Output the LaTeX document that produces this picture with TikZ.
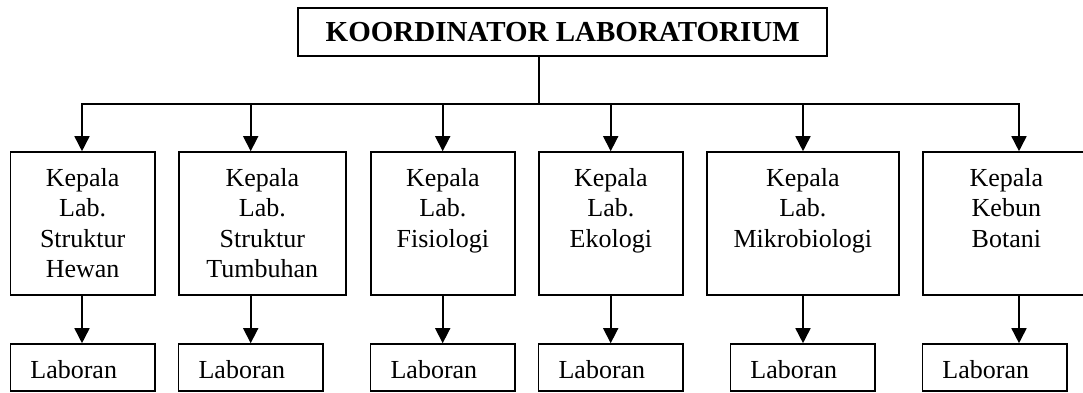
\documentclass[tikz,border=0pt]{standalone}
\usepackage{fontspec}
\setmainfont{Liberation Serif}
\usetikzlibrary{arrows.meta,positioning}
\tikzset{
  orgtitle/.style={
    rectangle, draw=black, line width=1.6pt, inner sep=0pt,
    minimum width=529pt, minimum height=48pt,
    font=\bfseries\fontsize{29}{34}\selectfont
  },
  orgkepala/.style={
    rectangle, draw=black, line width=1.6pt, inner sep=0pt,
    minimum height=143pt
  },
  orgkepalatext/.style={
    align=center, inner sep=0pt,
    font=\fontsize{26}{30.3}\selectfont
  },
  orglaboran/.style={
    rectangle, draw=black, line width=1.6pt,
    minimum height=47pt, inner xsep=20pt, inner ysep=0pt,
    text width=104.5pt, align=left,
    text height=21pt, text depth=0pt,
    font=\fontsize{26}{30.3}\selectfont
  },
  orgline/.style={line width=1.6pt},
  orgedge/.style={-{Triangle[width=15pt,length=15pt]},line width=1.6pt}
}
\begin{document}
\begin{tikzpicture}[x=1pt,y=-1pt]
  \useasboundingbox (0,0) rectangle (1083,392);
  \clip (0,0) rectangle (1083,392);
  % top box
  \node[orgtitle] (koord) at (562.7,32) {KOORDINATOR LABORATORIUM};
  % heads of the labs
  \node[orgkepala,minimum width=144.7pt] (k1) at (82.65,223.5) {};
  \node[orgkepala,minimum width=167.3pt] (k2) at (262.35,223.5) {};
  \node[orgkepala,minimum width=144.3pt] (k3) at (442.85,223.5) {};
  \node[orgkepala,minimum width=144.3pt] (k4) at (610.85,223.5) {};
  \node[orgkepala,minimum width=192.3pt] (k5) at (802.85,223.5) {};
  \node[orgkepala,minimum width=167.3pt] (k6) at (1006.35,223.5) {};
  \node[orgkepalatext,below=17pt of k1.north] {Kepala\\Lab.\\Struktur\\Hewan};
  \node[orgkepalatext,below=17pt of k2.north] {Kepala\\Lab.\\Struktur\\Tumbuhan};
  \node[orgkepalatext,below=17pt of k3.north] {Kepala\\Lab.\\Fisiologi};
  \node[orgkepalatext,below=17pt of k4.north] {Kepala\\Lab.\\Ekologi};
  \node[orgkepalatext,below=17pt of k5.north] {Kepala\\Lab.\\Mikrobiologi};
  \node[orgkepalatext,below=17pt of k6.north] {Kepala\\Kebun\\Botani};
  % laboran row
  \node[orglaboran] (l1) at (82.65,367.5) {Laboran};
  \node[orglaboran] (l2) at (250.85,367.5) {Laboran};
  \node[orglaboran] (l3) at (442.85,367.5) {Laboran};
  \node[orglaboran] (l4) at (610.85,367.5) {Laboran};
  \node[orglaboran] (l5) at (802.7,367.5) {Laboran};
  \node[orglaboran] (l6) at (994.7,367.5) {Laboran};
  % bus
  \coordinate (jn) at (538.7,104);
  \coordinate (b1) at (82,104);
  \coordinate (b2) at (250.7,104);
  \coordinate (b3) at (442.7,104);
  \coordinate (b4) at (610.7,104);
  \coordinate (b5) at (803,104);
  \coordinate (b6) at (1019,104);
  \draw[orgline] (koord.south -| jn) -- (jn);
  \draw[orgline,line cap=rect] (b1) -- (b6);
  \foreach \i in {1,...,6}{
    \draw[orgedge] (b\i) -- (b\i |- k\i.north);
    \draw[orgedge] (b\i |- k\i.south) -- (b\i |- l\i.north);
  }
\end{tikzpicture}
\end{document}
